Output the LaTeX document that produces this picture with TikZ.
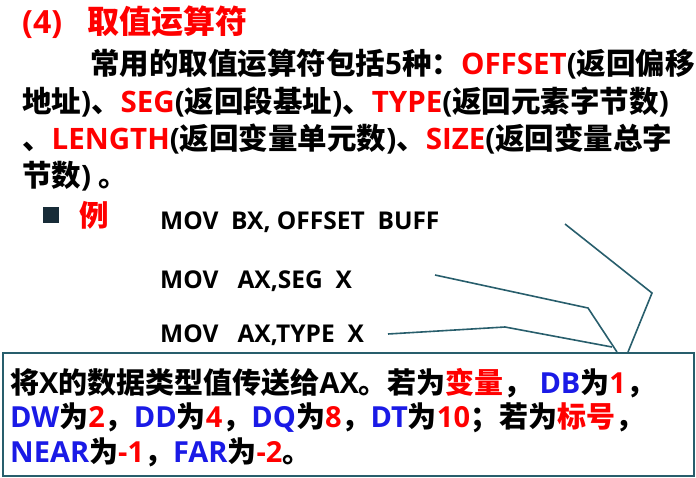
\documentclass[tikz,border=0pt]{standalone}
\usepackage{fontspec}
\setmainfont{Noto Sans CJK SC}
\newfontfamily\enfont{Open Sans}
\usetikzlibrary{positioning}
\definecolor{keyred}{RGB}{255,0,0}
\definecolor{keyblue}{RGB}{26,26,230}
\definecolor{callteal}{RGB}{40,94,108}
\definecolor{bulletdark}{RGB}{24,44,56}
\newcommand{\en}[1]{{\enfont #1}}
\newcommand{\rd}[1]{\textcolor{keyred}{#1}}
\newcommand{\kr}[1]{\textcolor{keyred}{\enfont #1}}
\newcommand{\kb}[1]{\textcolor{keyblue}{\enfont #1}}

\begin{document}
\begin{tikzpicture}[x=1pt,y=-1pt,
  title text/.style={anchor=west,inner sep=0pt,text=keyred,font=\fontsize{32}{32}\selectfont\bfseries},
  body text/.style={anchor=west,inner sep=0pt,font=\fontsize{29.5}{29.5}\selectfont\bfseries},
  note text/.style={anchor=west,inner sep=0pt,font=\fontsize{29}{29}\selectfont\bfseries},
  code line/.style={anchor=west,inner sep=0pt,font=\fontsize{24.5}{24.5}\selectfont\bfseries\enfont},
  bullet box/.style={fill=bulletdark,minimum size=16pt,inner sep=0pt},
  callout/.style={draw=callteal,line width=1.6pt}]

  \useasboundingbox (0,0) rectangle (696,477);

  \node[title text] (title) at (22,22) {\en{(4)}\hspace{0.8em}取值运算符};

  \node[body text] (line1) at (90,64) {常用的取值运算符包括\en{5}种：\kr{OFFSET}\en{(}返回偏移};
  \node[body text] (line2) at (22,102) {地址\en{)}、\kr{SEG}\en{(}返回段基址\en{)}、\kr{TYPE}\en{(}返回元素字节数\en{)}};
  \node[body text] (line3) at (22,139) {、\kr{LENGTH}\en{(}返回变量单元数\en{)}、\kr{SIZE}\en{(}返回变量总字};
  \node[body text] (line4) at (22,176) {节数\en{) }。};

  \node[bullet box] (bullet) at (51,215) {};
  \node[body text,text=keyred] (example) at (79,215) {例};

  \node[code line] (mov1) at (160,222) {MOV\ \ BX, OFFSET\ \ BUFF};
  \node[code line] (mov2) at (160,281) {MOV\ \ \ AX,SEG\ \ X};
  \node[code line] (mov3) at (160,335) {MOV\ \ \ AX,TYPE\ \ X};

  \node[draw=callteal,line width=1.6pt,minimum width=691pt,minimum height=123pt,
    anchor=north west,inner sep=0pt] (note) at (2,352) {};
  \node[note text] (note1) at (10,383) {将\en{X}的数据类型值传送给\en{AX}。若为\rd{变量}，\ \kb{DB}为\kr{1}，};
  \node[note text] (note2) at (10,418) {\kb{DW}为\kr{2}，\kb{DD}为\kr{4}，\kb{DQ}为\kr{8}，\kb{DT}为\kr{10}；若为\rd{标号}，};
  \node[note text] (note3) at (10,452) {\kb{NEAR}为\kr{-1}，\kb{FAR}为\kr{-2}。};

  \coordinate (offset tip) at (565,224);
  \coordinate (offset knee) at (652,293);
  \coordinate (seg tip) at (435,275);
  \coordinate (seg knee) at (588,308);
  \coordinate (type tip) at (388,334);
  \coordinate (type knee) at (505,327);

  \draw[callout] (offset tip) -- (offset knee) -- ([xshift=626pt]note.north west);
  \draw[callout] (seg tip) -- (seg knee) -- ([xshift=615pt]note.north west);
  \draw[callout] (type tip) -- (type knee) -- ([xshift=610pt,yshift=5pt]note.north west);
\end{tikzpicture}
\end{document}
